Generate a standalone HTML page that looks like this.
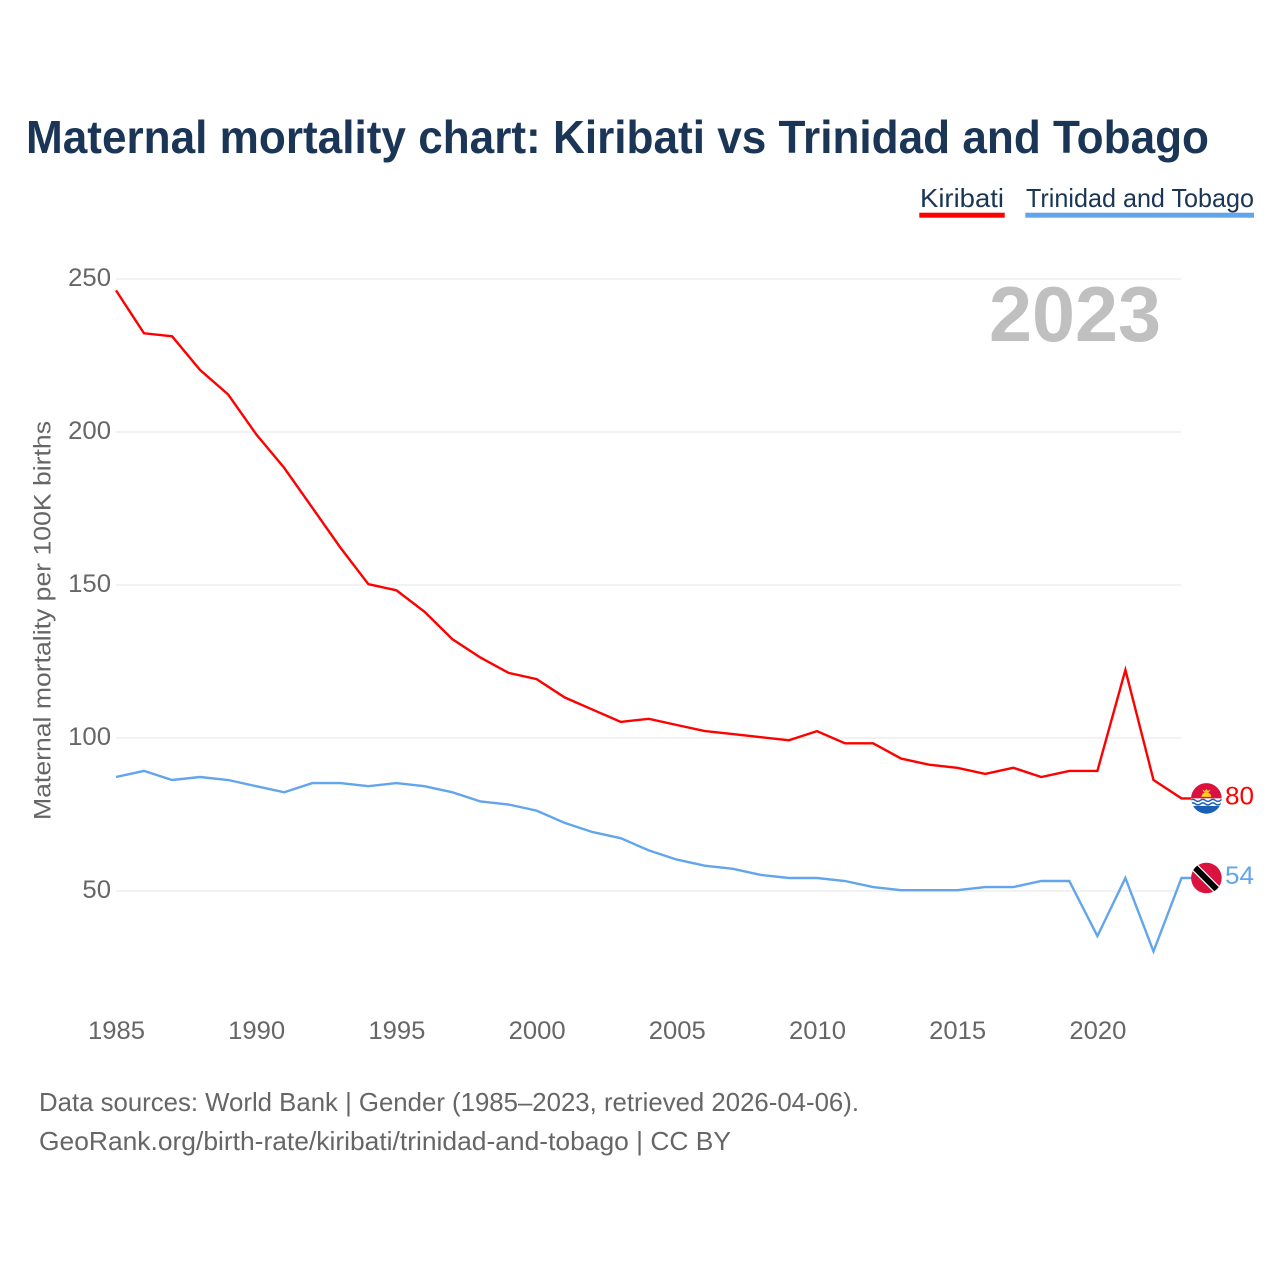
<!DOCTYPE html>
<html lang="en">
<head>
<meta charset="utf-8">
<title>Maternal mortality chart: Kiribati vs Trinidad and Tobago</title>
<style>
html,body{margin:0;padding:0;background:#fff;width:1280px;height:1280px;overflow:hidden}
svg{display:block;font-family:"Liberation Sans",sans-serif}
</style>
</head>
<body>
<svg id="chart" xmlns="http://www.w3.org/2000/svg" width="1280" height="1280" viewBox="0 0 1280 1280">
  <defs>
    <clipPath id="flag-clip-a"><circle cx="0" cy="0" r="15.3"/></clipPath>
    <clipPath id="flag-clip-b"><circle cx="0" cy="0" r="15.3"/></clipPath>
  </defs>
  <rect x="0" y="0" width="1280" height="1280" fill="#fff"/>
  <text x="26" y="153" font-size="46" font-weight="700" fill="#1a3556" textLength="1183" lengthAdjust="spacingAndGlyphs">Maternal mortality chart: Kiribati vs Trinidad and Tobago</text>

  <g>
    <g>
      <text x="920" y="207" font-size="26" fill="#1a3556" textLength="84" lengthAdjust="spacingAndGlyphs">Kiribati</text>
      <rect x="919.300" y="212.700" width="85.400" height="5" fill="#ff0000"/>
    </g>
    <g>
      <text x="1026" y="207" font-size="26" fill="#1a3556" textLength="228" lengthAdjust="spacingAndGlyphs">Trinidad and Tobago</text>
      <rect x="1025.300" y="212.700" width="228.700" height="5" fill="#62a5ec"/>
    </g>
  </g>

  <g id="grid"></g>
  <g id="yticks"></g>
  <g id="xticks"></g>

  <text x="989" y="341" font-size="78" font-weight="700" fill="#c0c0c0" textLength="172" lengthAdjust="spacingAndGlyphs">2023</text>
  <text transform="translate(50.500,620.500) rotate(-90)" text-anchor="middle" font-size="24" fill="#666" textLength="399" lengthAdjust="spacingAndGlyphs">Maternal mortality per 100K births</text>

  <polyline id="line-kiribati" fill="none" stroke="#ff0000" stroke-width="2.4" stroke-linejoin="miter"/>
  <polyline id="line-tt" fill="none" stroke="#62a5ec" stroke-width="2.4" stroke-linejoin="miter"/>

  <g id="flag-kiribati">
    <g clip-path="url(#flag-clip-a)">
      <rect x="-16" y="-16" width="32" height="16" fill="#d9123f"/>
      <rect x="-16" y="0" width="32" height="16" fill="#fff"/>
      <path d="M-16 2q2.500-2 5 0t5 0t5 0t5 0t5 0t5 0t5 0M-16 5.500q2.500-2 5 0t5 0t5 0t5 0t5 0t5 0t5 0" fill="none" stroke="#1a5fb4" stroke-width="1.500"/>
      <rect x="-16" y="7.500" width="32" height="9" fill="#1a5fb4"/>
      <path d="M-5 -1.500a5 4.500 0 0 1 10 0z" fill="#fcd116"/>
      <path d="M-4 -9l2.500 1.500l1.500-2l1.500 2l2.500-1.500l-1.500 3h-5z" fill="#fcd116"/>
    </g>
  </g>
  <g id="flag-tt">
    <g clip-path="url(#flag-clip-b)">
      <rect x="-16" y="-16" width="32" height="32" fill="#d9123f"/>
      <path d="M-14 -13L14 15" stroke="#fff" stroke-width="8.500"/>
      <path d="M-14 -13L14 15" stroke="#000" stroke-width="6"/>
    </g>
  </g>

  <text id="value-kiribati" x="1225" font-size="25" fill="#ff0000" textLength="29" lengthAdjust="spacingAndGlyphs"></text>
  <text id="value-tt" x="1225" font-size="25" fill="#62a5ec" textLength="29" lengthAdjust="spacingAndGlyphs"></text>

  <text x="39" y="1111" font-size="26" fill="#666" textLength="820" lengthAdjust="spacingAndGlyphs">Data sources: World Bank | Gender (1985–2023, retrieved 2026-04-06).</text>
  <text x="39" y="1150" font-size="26" fill="#666" textLength="692" lengthAdjust="spacingAndGlyphs">GeoRank.org/birth-rate/kiribati/trinidad-and-tobago | CC BY</text>
</svg>
<script>
const years = [1985,1986,1987,1988,1989,1990,1991,1992,1993,1994,1995,1996,1997,1998,1999,2000,2001,2002,2003,2004,2005,2006,2007,2008,2009,2010,2011,2012,2013,2014,2015,2016,2017,2018,2019,2020,2021,2022,2023];
const kiribati = [246,232,231,220,212,199,188,175,162,150,148,141,132,126,121,119,113,109,105,106,104,102,101,100,99,102,98,98,93,91,90,88,90,87,89,89,122,86,80];
const trinidadTobago = [87,89,86,87,86,84,82,85,85,84,85,84,82,79,78,76,72,69,67,63,60,58,57,55,54,54,53,51,50,50,50,51,51,53,53,35,54,30,54];
const yTicks = [50,100,150,200,250];
const xTicks = [1985,1990,1995,2000,2005,2010,2015,2020];

const NS = 'http://www.w3.org/2000/svg';
const xScale = function (year) { return 116 + (year - 1985) * (1181.5 - 116) / 38; };
const yScale = function (value) { return 891 - (value - 50) * (891 - 279) / 200; };
const markOffset = -0.8;

const grid = document.getElementById('grid');
const yGroup = document.getElementById('yticks');
const xGroup = document.getElementById('xticks');

yTicks.forEach(function (tick) {
  const line = document.createElementNS(NS, 'line');
  
  
  line.setAttribute('x1', 116);
  line.setAttribute('x2', 1181);
  line.setAttribute('y1', yScale(tick));
  line.setAttribute('y2', yScale(tick));
  line.setAttribute('stroke', '#eeeeee');
  line.setAttribute('stroke-width', 1.5);
  grid.appendChild(line);

  const label = document.createElementNS(NS, 'text');
  
  
  label.setAttribute('x', 111);
  label.setAttribute('y', yScale(tick) + 7);
  label.setAttribute('text-anchor', 'end');
  label.setAttribute('font-size', 25);
  label.setAttribute('fill', '#666');
  label.setAttribute('textLength', String(tick).length * 14.3);
  label.setAttribute('lengthAdjust', 'spacingAndGlyphs');
  label.textContent = tick;
  yGroup.appendChild(label);
});

xTicks.forEach(function (tick) {
  const label = document.createElementNS(NS, 'text');
  
  
  label.setAttribute('x', xScale(tick) + 0.5);
  label.setAttribute('y', 1039);
  label.setAttribute('text-anchor', 'middle');
  label.setAttribute('font-size', 25);
  label.setAttribute('fill', '#666');
  label.setAttribute('textLength', 57);
  label.setAttribute('lengthAdjust', 'spacingAndGlyphs');
  label.textContent = tick;
  xGroup.appendChild(label);
});

function drawSeries(lineId, flagId, valueId, values) {
  const last = values[values.length - 1];
  const lastY = yScale(last) + markOffset;
  const points = values.map(function (v, i) {
    return xScale(years[i]).toFixed(1) + ',' + (yScale(v) + markOffset).toFixed(1);
  });
  points.push((xScale(years[years.length - 1]) + 10).toFixed(1) + ',' + lastY.toFixed(1));
  document.getElementById(lineId).setAttribute('points', points.join(' '));
  document.getElementById(flagId).setAttribute('transform', 'translate(1206.4,' + lastY.toFixed(1) + ')');
  const valueLabel = document.getElementById(valueId);
  valueLabel.setAttribute('y', (lastY + 6).toFixed(1));
  valueLabel.textContent = last;
}

drawSeries('line-tt', 'flag-tt', 'value-tt', trinidadTobago);
drawSeries('line-kiribati', 'flag-kiribati', 'value-kiribati', kiribati);
</script>
</body>
</html>
